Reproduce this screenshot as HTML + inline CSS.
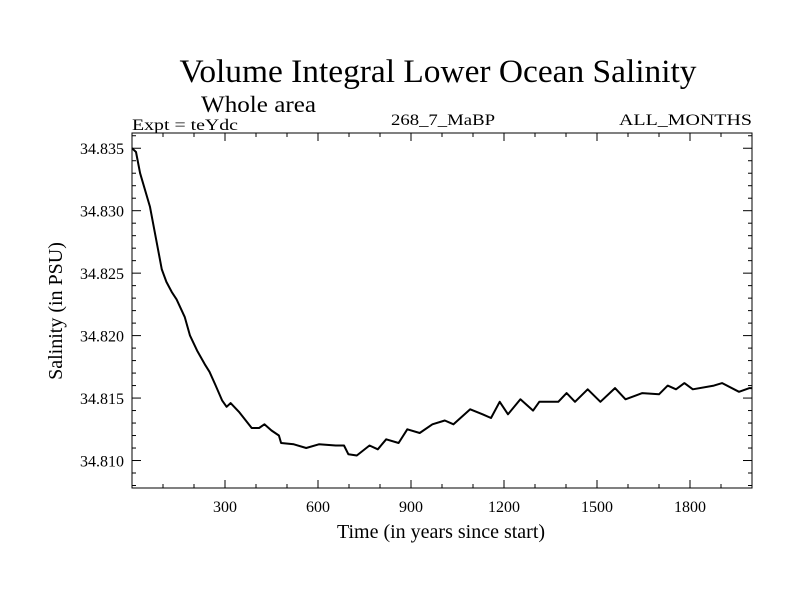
<!DOCTYPE html>
<html><head><meta charset="utf-8"><style>
body{margin:0;background:#fff}
svg{display:block;font-family:"Liberation Serif",serif}
</style></head><body>
<svg id="chart" width="800" height="600" viewBox="0 0 800 600">
<rect width="800" height="600" fill="#fff"/>
<text x="438" y="82" font-size="33" text-anchor="middle" textLength="517" lengthAdjust="spacingAndGlyphs">Volume Integral Lower Ocean Salinity</text>
<text x="201" y="112" font-size="23" textLength="115" lengthAdjust="spacingAndGlyphs">Whole area</text>
<text x="132" y="130" font-size="16" textLength="106" lengthAdjust="spacingAndGlyphs">Expt = teYdc</text>
<text x="443" y="125" font-size="16" text-anchor="middle" textLength="104" lengthAdjust="spacingAndGlyphs">268_7_MaBP</text>
<text x="752" y="125" font-size="16" text-anchor="end" textLength="133" lengthAdjust="spacingAndGlyphs">ALL_MONTHS</text>
<text transform="translate(62,311) rotate(-90)" font-size="20" text-anchor="middle">Salinity (in PSU)</text>
<text x="441" y="538" font-size="20" text-anchor="middle">Time (in years since start)</text>
<g id="axes"></g>
<path id="line" fill="none" stroke="#000" stroke-width="2" stroke-linejoin="round"/>
<rect x="132" y="133" width="620" height="355" fill="none" stroke="#000" stroke-width="1"/>
</svg>
<script>
const years=[0,13,26,58,96,111,128,144,170,187,210,235,250,270,291,305,318,345,386,410,427,450,474,481,522,562,603,657,684,698,725,766,793,820,860,888,928,969,1009,1037,1091,1131,1158,1186,1213,1253,1294,1314,1375,1402,1429,1470,1511,1558,1592,1646,1700,1728,1755,1782,1809,1877,1904,1958,1992,2000];
const salinity=[34.8350,34.8347,34.8330,34.8303,34.8253,34.8243,34.8235,34.8229,34.8215,34.8200,34.8188,34.8177,34.8171,34.8160,34.8148,34.8143,34.8146,34.8139,34.8126,34.8126,34.8129,34.8124,34.8120,34.8114,34.8113,34.8110,34.8113,34.8112,34.8112,34.8105,34.8104,34.8112,34.8109,34.8117,34.8114,34.8125,34.8122,34.8129,34.8132,34.8129,34.8141,34.8137,34.8134,34.8147,34.8137,34.8149,34.8140,34.8147,34.8147,34.8154,34.8147,34.8157,34.8147,34.8158,34.8149,34.8154,34.8153,34.8160,34.8157,34.8162,34.8157,34.8160,34.8162,34.8155,34.8158,34.8158];
const xTicks=[300,600,900,1200,1500,1800];
const yTicks=[34.810,34.815,34.820,34.825,34.830,34.835];
const X0=132,X1=752,Y0=488,Y1=133,xmin=0,xmax=2000,ymin=34.8078,ymax=34.83622;
const xs=v=>X0+(v-xmin)/(xmax-xmin)*(X1-X0);
const ys=v=>Y0-(v-ymin)/(ymax-ymin)*(Y0-Y1);
const NS='http://www.w3.org/2000/svg';
const ax=document.getElementById('axes');
function mk(tag,at){const e=document.createElementNS(NS,tag);for(const k in at)e.setAttribute(k,at[k]);ax.appendChild(e);return e;}
for(let v=100;v<2000;v+=100){
 const x=xs(v),L=(v%300===0)?8:4;
 const t1=mk('line',{x1:x,x2:x,y1:Y0,y2:Y0-L,stroke:'#000'});
 
 
 const t2=mk('line',{x1:x,x2:x,y1:Y1,y2:Y1+L,stroke:'#000'});
 
 
}
xTicks.forEach(v=>{const t=mk('text',{x:xs(v),y:Y0+24,'font-size':16,'text-anchor':'middle'});t.textContent=v;
 
 });
for(let i=0;i<=28;i++){const v=34.808+i*0.001;if(v>ymax)break;const y=ys(v);const major=Math.abs(((v-34.810)/0.005)-Math.round((v-34.810)/0.005))<1e-6;const L=major?9:4;
 const a=mk('line',{x1:X0,x2:X0+L,y1:y,y2:y,stroke:'#000'});
 
 
 const b=mk('line',{x1:X1,x2:X1-L,y1:y,y2:y,stroke:'#000'});
 
 }
yTicks.forEach(v=>{const t=mk('text',{x:X0-8,y:ys(v)+6,'font-size':16,'text-anchor':'end'});t.textContent=v.toFixed(3);
 
 });
document.getElementById('line').setAttribute('d',years.map((v,i)=>(i?'L':'M')+xs(v).toFixed(1)+','+ys(salinity[i]).toFixed(1)).join(''));
</script>
</body></html>
